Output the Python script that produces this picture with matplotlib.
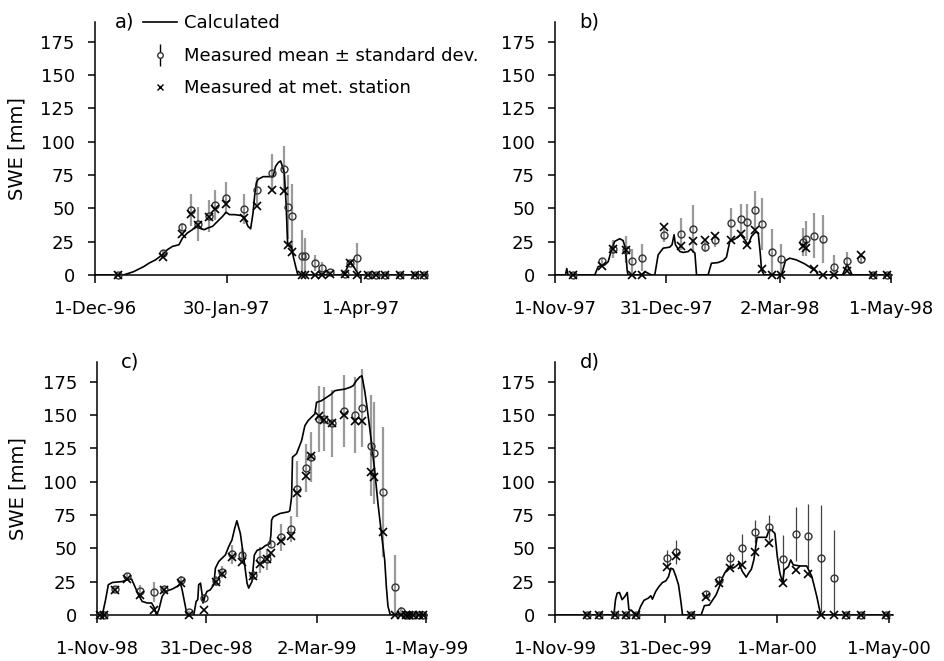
import matplotlib
matplotlib.use('Agg')
import matplotlib.pyplot as plt
from matplotlib.lines import Line2D

plt.rcParams['font.family'] = 'DejaVu Sans'

# Panel a) winter 1996/97, days since 1-Dec-96
calc_day_a = [0, 13.0, 17.6, 22.2, 24.5, 27.5, 30.6, 32.9, 35.2, 38.2,
              39.8, 42.0, 44.3, 45.9, 47.4, 49.7, 51.2, 53.5, 55.8, 58.1,
              59.6, 61.2, 63.5, 66.5, 68.0, 69.6, 70.8, 71.9, 72.6, 73.4,
              74.2, 76.5, 81.0, 82.1, 83.3, 84.4, 85.2, 86.1, 86.9, 87.6,
              89.4, 90.2, 91.3, 92.2, 92.8, 113.1, 116.2, 120.0, 151]
calc_swe_a = [0, 0, 2.5, 6.3, 8.8, 11.3, 15.1, 18.9, 21.4, 22.7,
              27.7, 31.5, 34.0, 36.5, 35.2, 34.0, 35.2, 36.5, 40.3, 44.1,
              47.1, 45.3, 45.3, 44.6, 42.8, 36.5, 34.7, 46.6, 59.2, 69.2,
              71.8, 73.8, 73.8, 81.3, 84.3, 85.6, 81.8, 76.8, 54.1, 24.2,
              21.4, 13.8, 6.3, 0.5, 0, 0, 10, 0, 0]
meas_day_a = [10.7, 31.0, 39.8, 43.6, 46.9, 52.0, 54.6, 59.6, 68.0, 73.7,
              80.7, 86.1, 87.9, 89.8, 94.3, 95.6, 100.2, 103.2, 107.0, 113.9,
              115.9, 119.3, 124.3, 128.0, 132.0, 138.7, 145.7, 149.5]
mean_a = [0, 16.4, 35.7, 48.6, 38.3, 44.1, 52.4, 57.9, 49.6, 63.4,
          76.8, 79.8, 50.9, 44.1, 14.6, 14.6, 9.3, 5.5, 2.0, 0.8,
          8.8, 13.1, 0, 0, 0, 0, 0, 0]
std_a = [0, 2, 3, 12, 13, 12, 11, 12, 11, 10,
         14, 17, 24, 24, 19, 13, 6, 4.5, 1, 0,
         1, 11, 0, 0, 0, 0, 0, 0]
met_a = [0, 13.8, 31.0, 46.1, 37.8, 43.6, 49.8, 52.9, 42.8, 51.6,
         63.4, 62.9, 22.7, 17.6, 0, 0, 0, 0, 0.8, 0.8,
         9.3, 0, 0, 0, 0, 0, 0, 0]

# Panel b) winter 1997/98, days since 1-Nov-97
calc_day_b = [0, 5.6, 6.3, 7.0, 21.4, 23.2, 26.8, 28.6, 30.4, 32.1,
              34.8, 36.6, 37.9, 38.8, 39.3, 46.5, 48.3, 50.1, 51.9, 53.7,
              55.5, 58.2, 61.8, 63.0, 64.1, 64.8, 67.2, 69.0, 71.7, 73.1,
              74.4, 75.3, 76.2, 82.4, 84.2, 87.8, 90.5, 92.3, 94.1, 96.8,
              100.0, 102.2, 104.0, 105.8, 108.0, 109.4, 110.5, 111.2, 112.6, 121.9,
              124.1, 126.4, 130.0, 134.5, 138.1, 140.4, 141.7, 154.8, 157.3, 160.0,
              181]
calc_swe_b = [0, 0, 4.8, 0, 0, 6.3, 7.6, 10.0, 18.9, 25.2,
              27.2, 25.9, 20.1, 3.8, 0, 0, 2.5, 1.3, 0, 0,
              15.1, 20.1, 20.9, 22.7, 30.2, 22.7, 17.6, 16.9, 17.6, 19.4,
              17.6, 16.4, 0, 0, 8.8, 9.3, 10.8, 13.3, 25.2, 26.9,
              30.2, 26.4, 22.7, 29.0, 32.2, 31.5, 16.4, 3.8, 0, 0,
              10.8, 12.6, 11.3, 8.3, 5.0, 3.0, 0, 0, 8, 0,
              0]
meas_day_b = [9.7, 25.3, 31.3, 38.4, 41.5, 46.9, 58.5, 67.7, 74.4, 81.0,
              86.4, 94.6, 100.4, 103.6, 107.6, 111.2, 116.6, 121.9, 133.6, 135.4,
              139.2, 144.4, 150.3, 157.3, 164.7, 171.3, 178.5]
mean_b = [0, 10.6, 19.6, 18.9, 10.6, 13.1, 29.7, 30.7, 34.7, 20.9,
          25.9, 39.0, 42.0, 39.8, 48.6, 38.3, 16.9, 11.8, 24.4, 27.2,
          29.5, 26.9, 6.3, 10.6, 11.8, 0, 0]
std_b = [0, 2, 7, 10, 9, 10, 5, 12, 18, 4,
         5, 11.5, 11, 13.5, 14.5, 19.5, 17.6, 11.6, 10.5, 13,
         17, 18, 8.8, 7, 3.5, 0, 0]
met_b = [0, 7.0, 19.6, 18.4, 0, 0, 35.7, 21.4, 25.2, 25.9,
         29.5, 25.9, 31.0, 22.7, 33.5, 4.5, 0, 0, 21.4, 20.6,
         4.3, 0, 0, 3.0, 15.1, 0, 0]

# Panel c) winter 1998/99, days since 1-Nov-98
calc_day_c = [0, 2.9, 4.7, 6.2, 8.4, 13.9, 17.5, 19.0, 20.8, 22.7,
              24.8, 27.6, 30.0, 31.3, 32.7, 34.0, 35.8, 37.6, 41.3, 44.0,
              45.9, 46.8, 49.5, 53.2, 54.5, 55.4, 55.9, 56.9, 57.8, 58.3,
              59.6, 60.5, 62.3, 64.2, 65.1, 66.9, 68.7, 70.6, 72.4, 74.2,
              75.7, 76.9, 78.8, 80.6, 82.5, 83.4, 85.2, 86.5, 88.0, 90.7,
              92.5, 95.0, 95.6, 96.0, 96.9, 100.6, 105.1, 106.0, 107.0, 107.5,
              109.7, 112.5, 114.3, 116.1, 117.9, 119.8, 120.7, 123.4, 126.2, 128.9,
              130.7, 132.6, 136.2, 139.0, 140.8, 142.6, 144.5, 145.7, 147.2, 148.5,
              149.9, 151.2, 152.7, 154.5, 156.4, 158.2, 159.1, 160.0, 161.3, 181]
calc_swe_c = [0, 0, 11.5, 22.7, 24.4, 25.1, 26.9, 26.9, 21.4, 15.2,
              10.2, 9.0, 9.0, 6.0, 0, 4.0, 13.9, 17.7, 19.4, 21.4,
              23.4, 18.9, 0, 0, 10.2, 11.5, 22.7, 23.9, 15.2, 9.0,
              15.2, 17.7, 18.9, 22.7, 35.1, 40.1, 42.6, 45.1, 51.3, 56.3,
              65.0, 70.7, 61.2, 43.8, 23.9, 20.2, 25.1, 45.0, 48.5, 50.0,
              52.0, 53.5, 60.0, 71.2, 73.7, 76.2, 77.4, 78.2, 88.6, 118.5,
              121.0, 130.9, 142.1, 145.9, 148.4, 150.9, 159.6, 160.8, 163.3, 165.8,
              168.3, 168.8, 169.5, 170.8, 172.0, 175.8, 178.7, 179.5, 168.3, 155.8,
              140.9, 126.0, 108.5, 83.6, 61.2, 41.3, 21.4, 6.5, 0, 0]
meas_day_c = [1.8, 4.0, 9.9, 16.6, 23.6, 31.2, 36.7, 45.9, 50.4, 59.0,
              65.4, 68.7, 74.2, 79.7, 85.7, 89.6, 93.6, 95.6, 101.1, 106.4,
              109.7, 114.8, 117.9, 121.9, 124.6, 129.4, 135.8, 141.7, 145.7, 150.8,
              152.3, 157.2, 164.0, 166.9, 170.0, 171.8, 174.0, 177.3, 179.2]
mean_c = [0, 0, 19.7, 29.6, 17.7, 16.9, 19.7, 26.4, 2.0, 12.7,
          25.6, 32.6, 45.6, 45.1, 30.1, 41.3, 41.8, 53.0, 58.3, 64.5,
          94.8, 110.5, 118.5, 147.1, 147.1, 143.9, 153.3, 150.1, 155.3, 127.2,
          121.5, 92.4, 20.9, 2.7, 0, 0, 0, 0, 0]
std_c = [0, 0, 2, 2, 5, 7.5, 1, 3, 1, 3,
         4, 4.5, 7, 5, 4, 10, 8, 3, 10, 10,
         21, 18, 19, 25, 24, 25, 27, 28.5, 29, 38,
         38, 48.5, 24, 3, 0, 0, 0, 0, 0]
met_c = [0, 0, 18.4, 26.9, 15.2, 4.0, 18.9, 23.9, 0, 3.5,
         24.4, 30.9, 43.8, 40.1, 28.9, 38.3, 41.8, 46.8, 55.5, 59.5,
         91.6, 104.1, 119.7, 149.6, 146.6, 143.9, 150.4, 145.4, 145.4, 107.3,
         103.6, 62.0, 0, 0, 0, 0, 0, 0, 0]

# Panel d) winter 1999/2000, days since 1-Nov-99
calc_day_d = [0, 32.0, 32.9, 33.8, 35.1, 36.5, 38.0, 39.3, 40.2, 41.6,
              42.9, 44.8, 46.6, 48.4, 50.8, 52.1, 53.0, 54.8, 56.6, 58.5,
              60.3, 61.8, 63.0, 64.3, 65.8, 67.2, 68.5, 69.4, 79.5, 81.3,
              84.0, 85.9, 87.7, 89.5, 91.0, 92.3, 94.1, 95.4, 96.8, 98.7,
              100.1, 102.0, 104.1, 105.6, 106.9, 108.2, 110.0, 115.1, 116.6, 117.9,
              119.7, 121.0, 122.4, 123.9, 124.8, 127.0, 128.3, 129.7, 133.4, 137.0,
              139.8, 142.5, 144.0, 144.7, 184]
calc_swe_d = [0, 0, 11.5, 16.4, 16.9, 11.5, 13.9, 16.9, 4.0, 3.5,
              1.5, 0, 6.5, 11.0, 12.7, 14.4, 11.9, 17.7, 21.4, 24.4,
              25.6, 28.9, 35.1, 34.4, 28.9, 22.7, 10.2, 0, 0, 7.0,
              7.5, 11.5, 15.2, 21.4, 27.6, 31.4, 35.1, 36.8, 35.1, 36.8,
              38.8, 32.6, 28.4, 31.9, 34.4, 41.3, 58.3, 58.3, 64.2, 63.7,
              61.2, 43.8, 31.4, 24.4, 33.9, 36.3, 41.3, 37.6, 36.8, 36.8,
              28.9, 13.9, 4.0, 0, 0]
meas_day_d = [17.3, 23.7, 32.9, 38.4, 43.8, 60.7, 66.1, 74.0, 82.2, 89.0,
              95.0, 102.0, 108.7, 116.6, 124.3, 131.2, 137.9, 144.9, 151.7, 158.6,
              166.3, 180.0]
mean_d = [0, 0, 0, 0, 0, 42.6, 47.5, 0, 15.7, 26.4,
          42.6, 50.0, 62.5, 65.7, 41.8, 60.5, 59.5, 42.6, 28.1, 0,
          0, 0]
std_d = [0, 0, 0, 0, 0, 6, 9, 0, 2, 3,
         5, 10.7, 8.7, 9.2, 18.2, 20.2, 24, 40, 35.6, 0,
         0, 0]
met_d = [0, 0, 0, 0, 0, 36.3, 44.3, 0, 13.4, 23.9,
         35.1, 37.6, 47.5, 54.3, 23.9, 33.9, 30.9, 0, 0, 0,
         0, 0]

tick_days_a = [0, 60, 121]
tick_labels_a = ['1-Dec-96', '30-Jan-97', '1-Apr-97']
tick_days_b = [0, 60, 121, 181]
tick_labels_b = ['1-Nov-97', '31-Dec-97', '2-Mar-98', '1-May-98']
tick_days_c = [0, 60, 121, 181]
tick_labels_c = ['1-Nov-98', '31-Dec-98', '2-Mar-99', '1-May-99']
tick_days_d = [0, 60, 121, 182]
tick_labels_d = ['1-Nov-99', '31-Dec-99', '1-Mar-00', '1-May-00']

swe_ticks = [0, 25, 50, 75, 100, 125, 150, 175]

# (label, rect in figure fraction, xmax, data..., errbar colour, errbar width, ylabel x)
PANELS = [
    ('a)', [0.1006, 0.584, 0.3517, 0.383], 151,
     calc_day_a, calc_swe_a, meas_day_a, mean_a, std_a, met_a,
     tick_days_a, tick_labels_a, '#9a9a9a', 1.6, -0.205),
    ('b)', [0.588, 0.584, 0.357, 0.383], 181.5,
     calc_day_b, calc_swe_b, meas_day_b, mean_b, std_b, met_b,
     tick_days_b, tick_labels_b, '#9a9a9a', 1.6, None),
    ('c)', [0.1028, 0.0696, 0.3496, 0.383], 181.5,
     calc_day_c, calc_swe_c, meas_day_c, mean_c, std_c, met_c,
     tick_days_c, tick_labels_c, '#9a9a9a', 1.6, -0.212),
    ('d)', [0.588, 0.0696, 0.358, 0.383], 184,
     calc_day_d, calc_swe_d, meas_day_d, mean_d, std_d, met_d,
     tick_days_d, tick_labels_d, '#444444', 0.9, None),
]

FS = 13

fig = plt.figure(figsize=(9.44, 6.61), dpi=100)
axes = []

for (lab, rect, xmax, cd, cs, md, mm, ms, mt,
     tdays, tlabels, ecol, ew, ylab_x) in PANELS:
    ax = fig.add_axes(rect)
    axes.append(ax)

    ax.errorbar(md, mm, yerr=ms, fmt='none', ecolor=ecol, elinewidth=ew,
                capsize=0, zorder=1)
    ax.plot(cd, cs, color='black', lw=1.2, zorder=2)
    ax.plot(md, mm, linestyle='none', marker='o', markersize=5,
            markerfacecolor='none', markeredgecolor='#333333',
            markeredgewidth=1.0, clip_on=False, zorder=3)
    ax.plot(md, mt, linestyle='none', marker='x', markersize=5.5,
            color='black', markeredgewidth=1.2, clip_on=False, zorder=4)

    ax.set_xlim(0, xmax)
    ax.set_ylim(0, 190)
    ax.set_xticks(tdays)
    ax.set_xticklabels(tlabels)
    ax.set_yticks(swe_ticks)
    ax.spines['top'].set_visible(False)
    ax.spines['right'].set_visible(False)
    ax.spines['left'].set_linewidth(1.1)
    ax.spines['bottom'].set_linewidth(1.1)
    ax.tick_params(axis='x', direction='out', length=6, width=1.1,
                   pad=12, labelsize=FS)
    ax.tick_params(axis='y', direction='out', length=5, width=1.1,
                   pad=9.5, labelsize=FS)
    if ylab_x is not None:
        ax.set_ylabel('SWE [mm]', fontsize=14)
        ax.yaxis.set_label_coords(ylab_x, 0.5)

    ax.text(0.06 if lab == 'a)' else 0.072, 1.0, lab, transform=ax.transAxes,
            fontsize=14, ha='left', va='center')

# Legend inside panel a
h_calc = Line2D([], [], color='black', lw=1.2)
h_bar = Line2D([], [], linestyle='none', marker='|', markersize=16,
               color='black', markeredgewidth=1.0)
h_mean = Line2D([], [], linestyle='none', marker='o', markersize=4,
                markerfacecolor='white', markeredgecolor='#333333')
h_met = Line2D([], [], linestyle='none', marker='x', markersize=4.5,
               color='black', markeredgewidth=1.0)
axes[0].legend([h_calc, (h_bar, h_mean), h_met],
               ['Calculated', 'Measured mean \u00b1 standard dev.',
                'Measured at met. station'],
               loc='upper left', bbox_to_anchor=(143 / 944, 1 - 14.5 / 661),
               bbox_transform=fig.transFigure, frameon=False, fontsize=FS,
               handlelength=1.9, handletextpad=0.35, labelspacing=0.8,
               borderpad=0, borderaxespad=0)

fig.savefig('out.png', dpi=100)
